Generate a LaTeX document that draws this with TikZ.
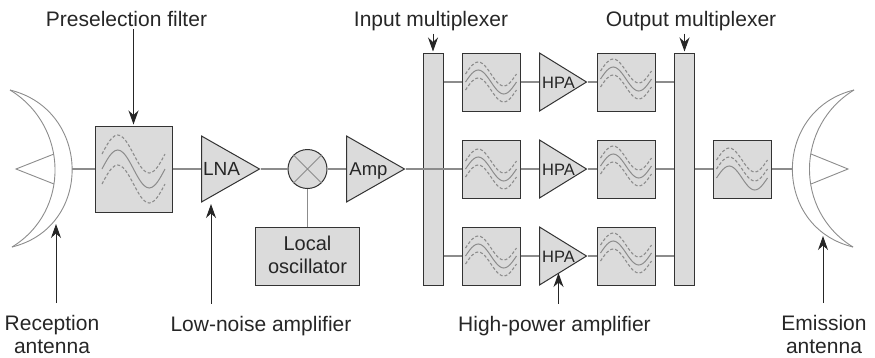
\documentclass[tikz,border=0pt]{standalone}
\usepackage{fontspec}
\setmainfont{Liberation Sans}
\usetikzlibrary{arrows.meta,shapes.geometric}
\definecolor{boxfill}{gray}{0.86}
\definecolor{wire}{gray}{0.55}
\definecolor{edge}{gray}{0.2}
\definecolor{inktext}{gray}{0.15}
\tikzset{
  filterbox/.style={draw=edge, fill=boxfill, line width=1pt, inner sep=0pt, minimum width=#1, minimum height=#1},
  muxbox/.style={draw=edge, fill=boxfill, line width=1pt, inner sep=0pt, minimum width=20pt, minimum height=232pt},
  amptri/.style={isosceles triangle, isosceles triangle stretches, draw=edge, fill=boxfill, line width=1pt, inner sep=0pt, anchor=lower side, minimum width=#1},
  amptext/.style={anchor=base, inner sep=0pt, text=inktext, font=\fontsize{#1}{#1}\selectfont},
  wirelink/.style={draw=wire, line width=1.1pt},
  dish/.style={draw=wire, line width=0.9pt},
  pointer/.style={draw=inktext, line width=1pt, -{Stealth[length=14pt,width=10pt,inset=4.5pt]}, shorten >=1pt},
  caption/.style={align=center, anchor=base, inner sep=0pt, text=inktext, font=\fontsize{21}{23}\selectfont}
}
% waves inside a filter: centre, half width, amplitude, offsets
\newcommand{\filterwaves}[6]{
  \draw[wire, line width=1pt, shift={(#1)}] plot[smooth, samples=25, domain=-1:1] (\x*#2, {#3*sin(\x*180)+#4});
  \draw[wire, line width=1.1pt, dash pattern=on 3pt off 2pt, shift={(#1)}] plot[smooth, samples=25, domain=-1:1] (\x*#2, {#3*sin(\x*180)+#5});
  \draw[wire, line width=1.1pt, dash pattern=on 3pt off 2pt, shift={(#1)}] plot[smooth, samples=25, domain=-1:1] (\x*#2, {#3*sin(\x*180)+#6});
}
\begin{document}
\begin{tikzpicture}[x=1pt, y=-1pt]
\useasboundingbox (0,0) rectangle (875,357);
% reception antenna
\draw[dish] (10,90) .. controls (91.5,110) and (93.5,227) .. (12,247);
\draw[dish] (10,90) .. controls (68.7,125.8) and (70.7,211.2) .. (12,247);
\draw[dish] (54,154) -- (16,169) -- (54,184);
\coordinate (rxdish) at (72,169);
\coordinate (rxtip) at (56,223);
% front end
\node[filterbox=77pt, minimum height=86pt] (presel) at (133.5,169) {};
\filterwaves{133.5,169}{31.5}{19}{0}{-15}{15}
\node[amptri=66pt, minimum height=58pt] (lna) at (201,169) {};
\node[amptext=19] (lnatext) at (221.5,175) {LNA};
\node[draw=edge, fill=boxfill, circle, line width=1pt, minimum size=39pt, inner sep=0pt] (mixer) at (307.5,169) {};
\draw[wire, line width=0.9pt] (mixer.north west) -- (mixer.south east) (mixer.north east) -- (mixer.south west);
\node[amptri=66pt, minimum height=58pt] (amp) at (346,169) {};
\node[amptext=18.5] (amptext) at (368.5,175) {Amp};
\node[draw=edge, fill=boxfill, line width=1pt, minimum width=104pt, minimum height=58pt, inner sep=0pt] (locosc) at (307,256) {};
\node[caption, font=\fontsize{20}{23}\selectfont] (loctext) at (307.5,273) {Local\\oscillator};
% multiplexers
\node[muxbox] (inmux) at (433,169) {};
\node[muxbox] (outmux) at (684.5,169) {};
% channels
\foreach \row/\ypos in {1/82, 2/169, 3/256} {
  \node[filterbox=58pt] (fin\row) at (491,\ypos) {};
  \filterwaves{491,\ypos}{25.5}{12}{0}{-8}{8}
  \node[amptri=58pt, minimum height=47pt] (hpa\row) at (539,\ypos) {};
  \node[amptext=16.5] (hpatext\row) at (558.5,\ypos+6) {HPA};
  \node[filterbox=58pt] (fout\row) at (626,\ypos) {};
  \filterwaves{626,\ypos}{25.5}{12}{-3}{-11}{5}
  \draw[wirelink] (fin\row.west -| inmux.east) -- (fin\row.west);
  \draw[wirelink] (fin\row.east) -- (hpa\row.lower side);
  \draw[wirelink] (hpa\row.apex) -- (fout\row.west);
  \draw[wirelink] (fout\row.east) -- (fout\row.east -| outmux.west);
}
\node[filterbox=58pt] (fend) at (742,169) {};
\filterwaves{742,169}{25.5}{12}{9}{-9}{0}
% emission antenna
\draw[dish] (854,90) .. controls (772.5,110) and (771.5,227) .. (853,247);
\draw[dish] (854,90) .. controls (795.3,125.8) and (794.3,211.2) .. (853,247);
\draw[dish] (811,154) -- (848,169) -- (811,184);
\coordinate (txdish) at (793,169);
\coordinate (txtip) at (823,235);
% wires
\draw[wirelink] (rxdish) -- (presel.west);
\draw[wirelink] (presel.east) -- (lna.lower side);
\draw[wirelink] (lna.apex) -- (mixer.west);
\draw[wirelink] (mixer.east) -- (amp.lower side);
\draw[wirelink] (amp.apex) -- (inmux.east |- amp.apex) ;
\draw[wirelink] (mixer.south) -- (mixer.south |- locosc.north);
\draw[wirelink] (outmux.east |- fend.west) -- (fend.west);
\draw[wirelink] (fend.east) -- (txdish);
% captions
\node[caption] (prelabel) at (126.5,26) {Preselection filter};
\node[caption] (inlabel) at (431,26) {Input multiplexer};
\node[caption] (outlabel) at (691,26) {Output multiplexer};
\node[caption] (reclabel) at (52,353.5) {Reception\\antenna};
\node[caption] (lnalabel) at (261,331) {Low-noise amplifier};
\node[caption] (hpalabel) at (554.5,331) {High-power amplifier};
\node[caption] (emilabel) at (824,353.5) {Emission\\antenna};
\coordinate (lnatip) at (211,203);
\coordinate (hpatip) at (558.5,272);
\draw[pointer] (presel.north |- prelabel.south) ++(0,3) -- (presel.north);
\draw[pointer] (inmux.north |- inlabel.south) ++(0,3) -- (inmux.north);
\draw[pointer] (outmux.north |- outlabel.south) ++(0,3) -- (outmux.north);
\draw[pointer] (rxtip |- reclabel.north) ++(0,-12) -- (rxtip);
\draw[pointer] (lnatip |- lnalabel.north) ++(0,-12) -- (lnatip);
\draw[pointer] (hpatip |- hpalabel.north) ++(0,-12) -- (hpatip);
\draw[pointer] (txtip |- emilabel.north) ++(0,-12) -- (txtip);
\end{tikzpicture}
\end{document}
